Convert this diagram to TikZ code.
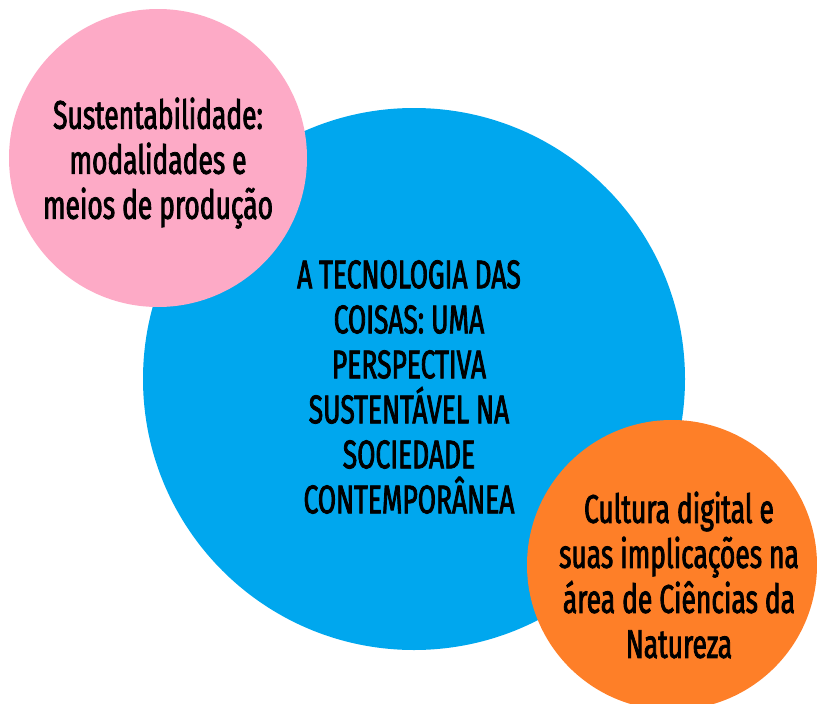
\documentclass[tikz,border=0pt]{standalone}
\usepackage{fontspec}
\setmainfont{Fira Sans}[FakeStretch=0.66,FakeBold=2]
\definecolor{cpink}{RGB}{253,170,198}
\definecolor{cblue}{RGB}{0,167,238}
\definecolor{corange}{RGB}{254,127,40}
\begin{document}
\begin{tikzpicture}[x=1pt,y=-1pt,
  bubble/.style={circle,inner sep=0pt},
  label/.style={align=center,font=\fontsize{40}{45}\selectfont,text=black}]
\useasboundingbox (0,0) rectangle (817,704);
\fill[cblue] (414,379) circle (271);
\fill[cpink] (158,158) circle (149);
\fill[corange] (672,565) circle (145);
\node[label] (main) at (409,387) {A TECNOLOGIA DAS\\COISAS: UMA\\PERSPECTIVA\\SUSTENTÁVEL NA\\SOCIEDADE\\CONTEMPORÂNEA};
\node[label] (sust) at (158,163) {Sustentabilidade:\\modalidades e\\meios de produção};
\node[label] (cult) at (679,575) {Cultura digital e\\suas implicações na\\área de Ciências da\\Natureza};
\end{tikzpicture}
\end{document}
